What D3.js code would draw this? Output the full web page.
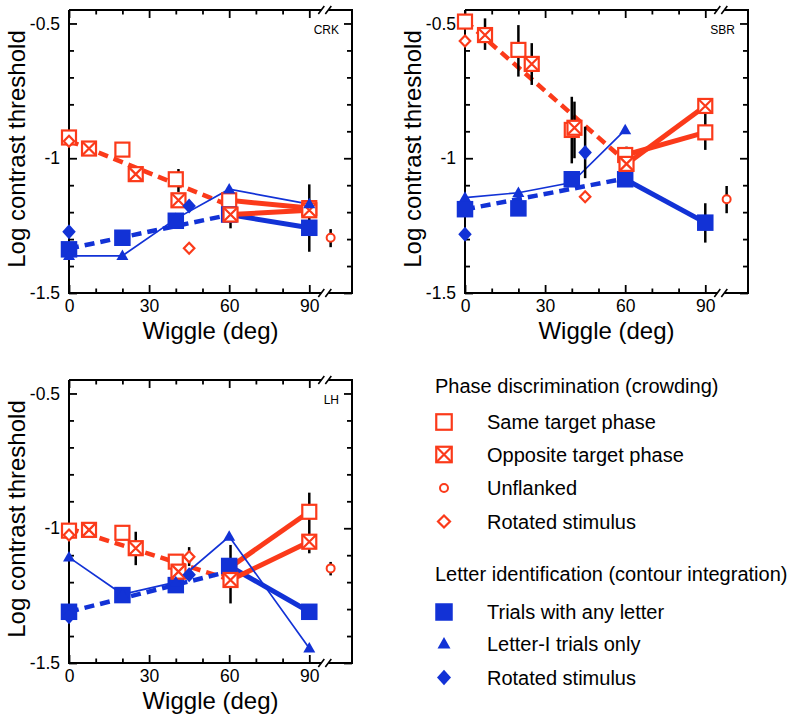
<!DOCTYPE html>
<html><head><meta charset="utf-8">
<script src="https://cdn.jsdelivr.net/npm/d3@7"></script>
<style>body{margin:0;background:#fff} text{font-family:"Liberation Sans",Arial,Helvetica,sans-serif}</style>
</head><body><svg id="c" width="800" height="722"></svg>
<script>
// ---------- data ----------
const sameX = [0, 20, 40, 60, 90];          // Same target phase
const oppX = [7.5, 25, 41, 60.5, 90];       // Opposite target phase (plotted offset)
const letterX = [0, 20, 40, 60, 90];        // Letter identification
const rotX = [0, 45];                       // Rotated stimulus
const unflankedX = [98];                    // Unflanked (beyond axis break)
const fitX = [0, 60];                       // dashed fit lines
const xTicks = [0, 30, 60, 90];
const xMinor = [10, 20, 40, 50, 70, 80];
const yTicks = [-0.5, -1, -1.5];
const yTickLabels = ["-0.5", "-1", "-1.5"];
const yMinor = [-1.4, -1.3, -1.2, -1.1, -0.9, -0.8, -0.7, -0.6];

// CRK
const crkSame = [-0.923, -0.968, -1.078, -1.156, -1.185];
const crkOpp = [-0.964, -1.059, -1.156, -1.209, -1.193];
const crkRedRot = [-0.937, -1.334];
const crkUnflanked = [-1.295];
const crkLetter = [-1.338, -1.295, -1.232, -1.209, -1.258];
const crkLetterI = [-1.362, -1.362, -1.225, -1.115, -1.17];
const crkBlueRot = [-1.273, -1.177];
const crkRedFit = [-0.935, -1.175];
const crkBlueFit = [-1.335, -1.21];
const crkErr = [[41, -1.125, -1.04], [60.5, -1.26, -1.15], [90, -1.347, -1.097], [98, -1.33, -1.263]];

// SBR
const sbrSame = [-0.493, -0.598, -0.895, -0.988, -0.904];
const sbrOpp = [-0.543, -0.650, -0.887, -1.021, -0.806];
const sbrRedRot = [-0.565, -1.143];
const sbrUnflanked = [-1.152];
const sbrLetter = [-1.189, -1.186, -1.078, -1.078, -1.239];
const sbrLetterI = [-1.146, -1.128, -1.09, -0.895, null];
const sbrBlueRot = [-1.282, -0.979];
const sbrRedFit = [-0.49, -1.01];
const sbrBlueFit = [-1.19, -1.075];
const sbrErr = [[7.5, -0.598, -0.481], [20, -0.697, -0.506], [25, -0.728, -0.573], [40, -1.019, -0.772],
  [41, -1.0, -0.79], [45, -1.074, -0.883], [60.5, -1.05, -0.957], [90, -0.969, -0.833],
  [90, -1.313, -1.167], [98, -1.204, -1.103]];

// LH
const lhSame = [-1.009, -1.017, -1.124, -1.147, -0.939];
const lhOpp = [-1.006, -1.074, -1.161, -1.192, -1.05];
const lhRedRot = [-1.025, -1.106];
const lhUnflanked = [-1.149];
const lhLetter = [-1.310, -1.248, -1.211, -1.140, -1.310];
const lhLetterI = [-1.108, -1.245, -1.2, -1.031, -1.445];
const lhBlueRot = [-1.328, -1.173];
const lhRedFit = [-1.0, -1.19];
const lhBlueFit = [-1.31, -1.16];
const lhErr = [[25, -1.137, -1.013], [41, -1.16, -1.10], [45, -1.14, -1.07], [60.5, -1.279, -1.062],
  [90, -1.093, -0.868], [98, -1.175, -1.125]];

const panelNames = ["CRK", "SBR", "LH"];
const legendRed = ["Same target phase", "Opposite target phase", "Unflanked", "Rotated stimulus"];
const legendBlue = ["Trials with any letter", "Letter-I trials only", "Rotated stimulus"];
const legendTitles = ["Phase discrimination (crowding)", "Letter identification (contour integration)"];

// ---------- drawing ----------
const RED = "#fb3a1a", BLUE = "#1232d6";
const FONT = '"Liberation Sans",Arial,Helvetica,sans-serif';
const svg = d3.select("#c");
const W = 283, H = 283;

const panels = [
  {name: panelNames[0], left: 69, top: 10, same: crkSame, opp: crkOpp, redRot: crkRedRot, unfl: crkUnflanked,
   sq: crkLetter, tri: crkLetterI, blueRot: crkBlueRot, redFit: crkRedFit, blueFit: crkBlueFit, err: crkErr},
  {name: panelNames[1], left: 465, top: 10, same: sbrSame, opp: sbrOpp, redRot: sbrRedRot, unfl: sbrUnflanked,
   sq: sbrLetter, tri: sbrLetterI, blueRot: sbrBlueRot, redFit: sbrRedFit, blueFit: sbrBlueFit, err: sbrErr},
  {name: panelNames[2], left: 69, top: 380, same: lhSame, opp: lhOpp, redRot: lhRedRot, unfl: lhUnflanked,
   sq: lhLetter, tri: lhLetterI, blueRot: lhBlueRot, redFit: lhRedFit, blueFit: lhBlueFit, err: lhErr}
];

function openSquare(g, cx, cy, withX, s = 14) {
  g.append("rect").attr("x", cx - s / 2).attr("y", cy - s / 2).attr("width", s).attr("height", s)
    .attr("fill", "#fff").attr("stroke", RED).attr("stroke-width", 2.2);
  if (withX) {
    g.append("path").attr("d", `M${cx - s / 2},${cy - s / 2}L${cx + s / 2},${cy + s / 2}M${cx + s / 2},${cy - s / 2}L${cx - s / 2},${cy + s / 2}`)
      .attr("stroke", RED).attr("stroke-width", 2.2).attr("fill", "none");
  }
}
function filledSquare(g, cx, cy, s = 16.5) {
  g.append("rect").attr("x", cx - s / 2).attr("y", cy - s / 2).attr("width", s).attr("height", s).attr("fill", BLUE);
}
function triangle(g, cx, cy, w = 12, h = 10.5) {
  g.append("path").attr("d", `M${cx},${cy - h * 0.6}L${cx + w / 2},${cy + h * 0.4}L${cx - w / 2},${cy + h * 0.4}Z`).attr("fill", BLUE);
}
function blueDiamond(g, cx, cy, w = 13.5, h = 15) {
  g.append("path").attr("d", `M${cx},${cy - h / 2}L${cx + w / 2},${cy}L${cx},${cy + h / 2}L${cx - w / 2},${cy}Z`).attr("fill", BLUE);
}
function redDiamond(g, cx, cy, w = 10.5, h = 11) {
  g.append("path").attr("d", `M${cx},${cy - h / 2}L${cx + w / 2},${cy}L${cx},${cy + h / 2}L${cx - w / 2},${cy}Z`)
    .attr("fill", "#fff").attr("stroke", RED).attr("stroke-width", 2.2);
}
function circle(g, cx, cy, r = 4) {
  g.append("circle").attr("cx", cx).attr("cy", cy).attr("r", r).attr("fill", "#fff").attr("stroke", RED).attr("stroke-width", 2);
}

panels.forEach(p => {
  const g = svg.append("g");
  const x = d3.scaleLinear().domain([0, 106]).range([p.left, p.left + W]);
  const y = d3.scaleLinear().domain([-1.5, -0.45]).range([p.top + H, p.top]);
  const right = p.left + W, bottom = p.top + H;

  // axes ticks (inside)
  const styleAx = sel => { sel.select(".domain").remove(); sel.selectAll("line").attr("stroke", "#000").attr("stroke-width", 1.8); };
  g.append("g").attr("transform", `translate(0,${bottom})`)
    .call(d3.axisBottom(x).tickValues(xTicks).tickSize(-8).tickPadding(7).tickFormat(d3.format("d"))).call(styleAx)
    .selectAll("text").attr("font-size", 17.5).attr("font-family", FONT).attr("fill", "#000");
  g.append("g").attr("transform", `translate(0,${bottom})`)
    .call(d3.axisBottom(x).tickValues(xMinor).tickSize(-4.5).tickFormat("")).call(styleAx);
  g.append("g").attr("transform", `translate(0,${p.top})`)
    .call(d3.axisTop(x).tickValues(xTicks).tickSize(-8).tickFormat("")).call(styleAx);
  g.append("g").attr("transform", `translate(0,${p.top})`)
    .call(d3.axisTop(x).tickValues(xMinor).tickSize(-4.5).tickFormat("")).call(styleAx);
  g.append("g").attr("transform", `translate(${p.left},0)`)
    .call(d3.axisLeft(y).tickValues(yTicks).tickSize(-8).tickPadding(9).tickFormat((d, i) => yTickLabels[i])).call(styleAx)
    .selectAll("text").attr("font-size", 17.5).attr("font-family", FONT).attr("fill", "#000");
  g.append("g").attr("transform", `translate(${p.left},0)`)
    .call(d3.axisLeft(y).tickValues(yMinor).tickSize(-5).tickFormat("")).call(styleAx);
  g.append("g").attr("transform", `translate(${right},0)`)
    .call(d3.axisRight(y).tickValues(yTicks).tickSize(-8).tickFormat("")).call(styleAx);
  g.append("g").attr("transform", `translate(${right},0)`)
    .call(d3.axisRight(y).tickValues(yMinor).tickSize(-5).tickFormat("")).call(styleAx);

  // frame with axis break
  const xb = x(96);
  const frame = `M${p.left},${p.top}V${bottom}H${xb - 4}M${xb + 3},${bottom}H${right}V${p.top}H${xb + 3}M${xb - 4},${p.top}H${p.left}`;
  g.append("path").attr("d", frame).attr("fill", "none").attr("stroke", "#000").attr("stroke-width", 2);
  [bottom, p.top].forEach(yy => {
    g.append("path").attr("d", `M${xb - 7},${yy + 4}L${xb - 1},${yy - 4}M${xb},${yy + 4}L${xb + 6},${yy - 4}`)
      .attr("stroke", "#000").attr("stroke-width", 1.6).attr("fill", "none");
  });

  // titles
  g.append("text").attr("x", (p.left + right) / 2).attr("y", bottom + 45.5).attr("text-anchor", "middle")
    .attr("font-size", 24).text("Wiggle (deg)");
  g.append("text").attr("transform", `translate(${p.left - 44},${p.top + 139}) rotate(-90)`).attr("text-anchor", "middle")
    .attr("font-size", 24).text("Log contrast threshold");
  g.append("text").attr("x", right - 13).attr("y", p.top + 24).attr("text-anchor", "end").attr("font-size", 12).text(p.name);

  const line = d3.line().defined(d => d[1] != null).x(d => x(d[0])).y(d => y(d[1]));

  // dashed fits
  g.append("path").attr("d", line(fitX.map((d, i) => [d, p.redFit[i]]))).attr("stroke", RED).attr("stroke-width", 4.5)
    .attr("stroke-dasharray", "10,6").attr("fill", "none");
  g.append("path").attr("d", line(fitX.map((d, i) => [d, p.blueFit[i]]))).attr("stroke", BLUE).attr("stroke-width", 4.5)
    .attr("stroke-dasharray", "10,6").attr("fill", "none");
  // thick solid 60 -> 90
  g.append("path").attr("d", line([[letterX[3], p.sq[3]], [letterX[4], p.sq[4]]])).attr("stroke", BLUE).attr("stroke-width", 5).attr("fill", "none");
  g.append("path").attr("d", line([[sameX[3], p.same[3]], [sameX[4], p.same[4]]])).attr("stroke", RED).attr("stroke-width", 5).attr("fill", "none");
  g.append("path").attr("d", line([[oppX[3], p.opp[3]], [oppX[4], p.opp[4]]])).attr("stroke", RED).attr("stroke-width", 5).attr("fill", "none");
  // thin letter-I line
  g.append("path").attr("d", line(letterX.map((d, i) => [d, p.tri[i]]))).attr("stroke", BLUE).attr("stroke-width", 1.7).attr("fill", "none");

  // error bars
  p.err.forEach(e => {
    g.append("line").attr("x1", x(e[0])).attr("x2", x(e[0])).attr("y1", y(e[1])).attr("y2", y(e[2]))
      .attr("stroke", "#000").attr("stroke-width", 2.5);
  });

  // markers
  sameX.forEach((d, i) => openSquare(g, x(d), y(p.same[i]), false));
  letterX.forEach((d, i) => filledSquare(g, x(d), y(p.sq[i])));
  oppX.forEach((d, i) => openSquare(g, x(d), y(p.opp[i]), true));
  letterX.forEach((d, i) => { if (p.tri[i] != null) triangle(g, x(d), y(p.tri[i])); });
  rotX.forEach((d, i) => blueDiamond(g, x(d), y(p.blueRot[i])));
  rotX.forEach((d, i) => redDiamond(g, x(d), y(p.redRot[i])));
  unflankedX.forEach((d, i) => circle(g, x(d), y(p.unfl[i])));
});

// ---------- legend ----------
const lg = svg.append("g");
const mx = 444, tx = 487;
lg.append("text").attr("x", 435).attr("y", 393).attr("font-size", 20).text(legendTitles[0]);
const redRows = [422, 454.5, 488, 521.5];
legendRed.forEach((t, i) => lg.append("text").attr("x", tx).attr("y", redRows[i] + 7).attr("font-size", 20).text(t));
openSquare(lg, mx, redRows[0], false, 15.5);
openSquare(lg, mx, redRows[1], true, 15.5);
circle(lg, mx, redRows[2], 4);
redDiamond(lg, mx, redRows[3], 12, 12);
lg.append("text").attr("x", 435).attr("y", 581).attr("font-size", 20).text(legendTitles[1]);
const blueRows = [612, 644, 677.5];
legendBlue.forEach((t, i) => lg.append("text").attr("x", tx).attr("y", blueRows[i] + 7).attr("font-size", 20).text(t));
filledSquare(lg, mx, blueRows[0], 17.5);
triangle(lg, mx, blueRows[1], 13, 11.5);
blueDiamond(lg, mx, blueRows[2], 14, 15.5);
</script>
</body></html>
